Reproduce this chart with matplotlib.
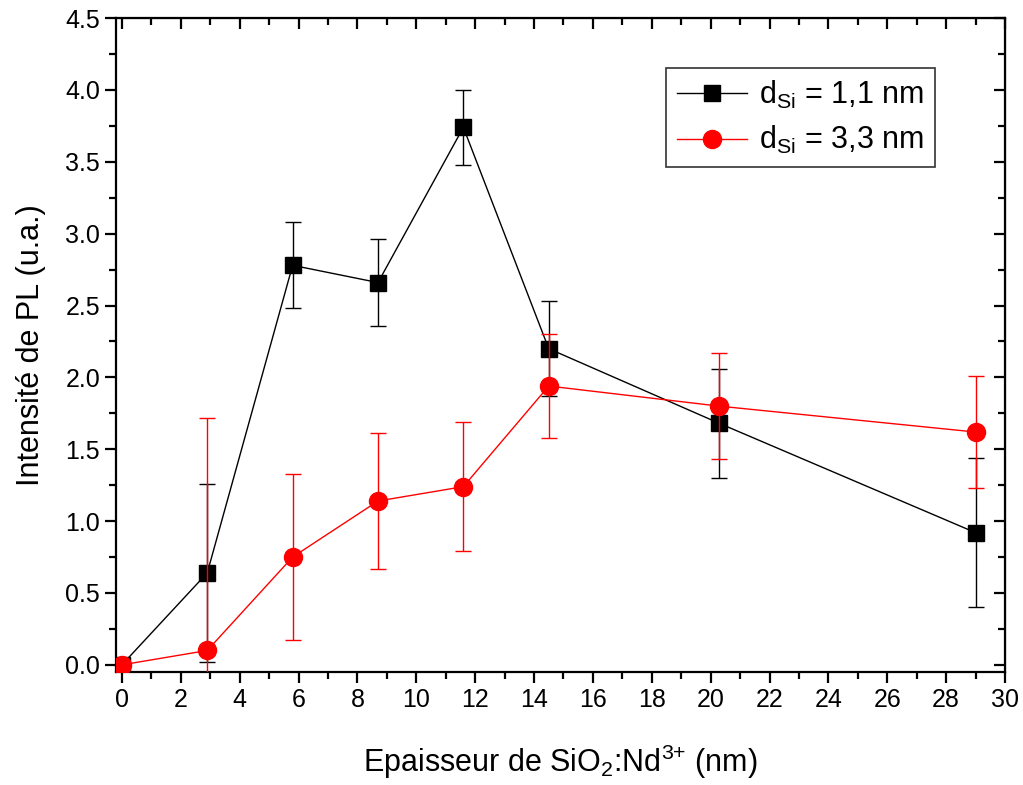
import matplotlib.pyplot as plt
from matplotlib.ticker import MultipleLocator

plt.rcParams['font.family'] = ['Liberation Sans', 'DejaVu Sans']
plt.rcParams['mathtext.default'] = 'regular'

epaisseur = [0, 2.9, 5.8, 8.7, 11.6, 14.5, 20.3, 29.0]
pl_11 = [0.0, 0.64, 2.78, 2.66, 3.74, 2.20, 1.68, 0.92]
err_11 = [0.0, 0.62, 0.30, 0.30, 0.26, 0.33, 0.38, 0.52]
pl_33 = [0.0, 0.10, 0.75, 1.14, 1.24, 1.94, 1.80, 1.62]
err_33 = [0.0, 1.62, 0.58, 0.47, 0.45, 0.36, 0.37, 0.39]

fig = plt.figure(figsize=(10.23, 7.85), dpi=100)
ax = fig.add_axes([0.1134, 0.1439, 0.869, 0.833])

e1 = ax.errorbar(epaisseur, pl_11, yerr=err_11, fmt='s-', color='black', ms=11.5, lw=1,
                 elinewidth=1, capsize=6, capthick=1, zorder=2)
e2 = ax.errorbar(epaisseur, pl_33, yerr=err_33, fmt='o-', color='red', ms=13, lw=1,
                 elinewidth=1, capsize=6, capthick=1, zorder=3)

ax.set_xlim(-0.2, 30)
ax.set_ylim(-0.05, 4.5)
ax.xaxis.set_major_locator(MultipleLocator(2))
ax.xaxis.set_minor_locator(MultipleLocator(1))
ax.yaxis.set_major_locator(MultipleLocator(0.5))
ax.yaxis.set_minor_locator(MultipleLocator(0.25))
ax.yaxis.set_major_formatter(plt.FormatStrFormatter('%.1f'))

for s in ax.spines.values():
    s.set_linewidth(1.6)
ax.tick_params(which='both', direction='out', width=1.6, labelsize=18)
ax.tick_params(which='major', length=8)
ax.tick_params(which='minor', length=5)

# top/right ticks point inward
sx = ax.secondary_xaxis('top')
sx.xaxis.set_major_locator(MultipleLocator(2))
sx.xaxis.set_minor_locator(MultipleLocator(1))
sx.tick_params(which='both', direction='in', width=1.6, labeltop=False)
sx.tick_params(which='major', length=8)
sx.tick_params(which='minor', length=5)
sy = ax.secondary_yaxis('right')
sy.yaxis.set_major_locator(MultipleLocator(0.5))
sy.yaxis.set_minor_locator(MultipleLocator(0.25))
sy.tick_params(which='both', direction='in', width=1.6, labelright=False)
sy.tick_params(which='major', length=8)
sy.tick_params(which='minor', length=5)

ax.set_xlabel(r'Epaisseur de SiO$_2$:Nd$^{3{+}}$ (nm)', fontsize=22, labelpad=22)
ax.set_ylabel('Intensité de PL (u.a.)', fontsize=22, labelpad=14)

leg = ax.legend([e1.lines[0], e2.lines[0]],
                [r'd$_{Si}$ = 1,1 nm', r'd$_{Si}$ = 3,3 nm'],
                loc='upper right', bbox_to_anchor=(0.921, 0.924), fontsize=22, frameon=True,
                fancybox=False, edgecolor='black', handlelength=2.3, borderpad=0.35,
                labelspacing=0.45, handletextpad=0.4, borderaxespad=0)
leg.get_frame().set_linewidth(1.2)

fig.savefig('out.png', dpi=100)
